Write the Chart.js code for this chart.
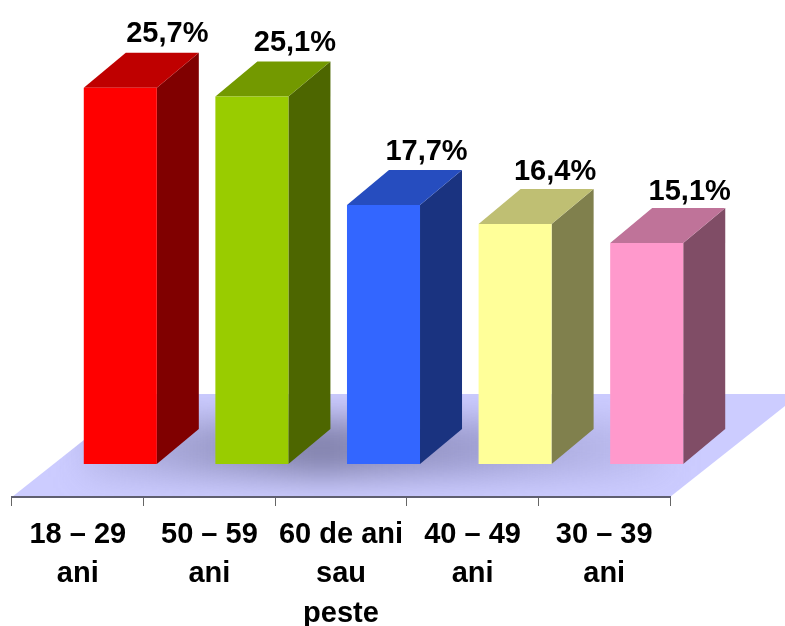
<!DOCTYPE html>
<html lang="ro">

<head>
    <meta charset="UTF-8">
    <title>Grupe de vârstă</title>
    <style>
        body { margin: 0; background: #fff; }
    </style>
</head>

<body>
    <canvas id="chart" width="785" height="626" style="display:block"></canvas>
</body>

<script src="https://cdn.jsdelivr.net/npm/chart.js@4/dist/chart.umd.min.js"></script>

<script>
    const labels = [['18 – 29', 'ani'], ['50 – 59', 'ani'], ['60 de ani', 'sau', 'peste'], ['40 – 49', 'ani'], ['30 – 39', 'ani']];
    const shares = [25.7, 25.1, 17.7, 16.4, 15.1];
    const frontColors = ['#ff0000', '#99cc00', '#3366ff', '#ffff99', '#ff99cc'];
    const topColors = ['#bf0000', '#739900', '#264dbf', '#bfbf73', '#bf7399'];
    const sideColors = ['#800000', '#4d6600', '#1a3380', '#80804d', '#804d66'];

    // the bars stand further back on the floor than the axis, so they slide right
    const barShift = 42.5;
    const depthX = 42;
    const depthY = 35;
    const labelFont = 'bold 29px "Liberation Sans", Arial, sans-serif';
    // hand placed in the original, so each label sits a little off centre
    const labelNudgeX = [5, 1, 1, -2, 1];
    const labelNudgeY = [-1, -1, 0, 1, 2];

    function face(ctx, color, pts) {
        ctx.fillStyle = color;
        ctx.beginPath();
        pts.forEach(function (p, i) {
            if (i === 0) ctx.moveTo(p[0], p[1]);
            else ctx.lineTo(p[0], p[1]);
        });
        ctx.closePath();
        ctx.fill();
    }

    const floorPlugin = {
        id: 'floor',
        beforeDraw: function (chart) {
            const ctx = chart.ctx;
            const area = chart.chartArea;
            const floorTop = area.bottom - 103;
            const floorSkew = 130;

            ctx.save();
            ctx.beginPath();
            ctx.moveTo(area.left, area.bottom);
            ctx.lineTo(area.left + floorSkew, floorTop);
            ctx.lineTo(chart.width, floorTop);
            ctx.lineTo(chart.width, floorTop + (area.right + floorSkew - chart.width) * 103 / floorSkew);
            ctx.lineTo(area.right, area.bottom);
            ctx.closePath();
            ctx.clip();
            ctx.fillStyle = '#ccccff';
            ctx.fillRect(0, floorTop, chart.width, 103);

            // soft shadow the bars throw on the floor
            const shade = ctx.createLinearGradient(area.left + 70, 0, area.right, 0);
            shade.addColorStop(0, 'rgba(125,125,175,0.2)');
            shade.addColorStop(0.4, 'rgba(115,115,155,0.85)');
            shade.addColorStop(0.65, 'rgba(125,125,175,0.6)');
            shade.addColorStop(1, 'rgba(125,125,175,0.1)');
            ctx.filter = 'blur(16px)';
            ctx.fillStyle = shade;
            ctx.fillRect(area.left + 70, area.bottom - 78, area.right - area.left - 70, 58);
            ctx.restore();
        }
    };

    const boxPlugin = {
        id: 'box',
        beforeDatasetDraw: function (chart, args) {
            const ctx = chart.ctx;
            ctx.save();
            ctx.translate(barShift, 0);
            args.meta.data.forEach(function (bar, i) {
                const left = bar.x - bar.width / 2;
                const right = bar.x + bar.width / 2;
                face(ctx, sideColors[i], [[right, bar.y], [right + depthX, bar.y - depthY], [right + depthX, bar.base - depthY], [right, bar.base]]);
                face(ctx, topColors[i], [[left, bar.y], [left + depthX, bar.y - depthY], [right + depthX, bar.y - depthY], [right, bar.y]]);
            });
        },
        afterDatasetDraw: function (chart, args) {
            const ctx = chart.ctx;
            ctx.fillStyle = '#000';
            ctx.font = labelFont;
            ctx.textAlign = 'center';
            ctx.textBaseline = 'alphabetic';
            args.meta.data.forEach(function (bar, i) {
                const text = shares[i].toFixed(1).replace('.', ',') + '%';
                ctx.fillText(text, bar.x + depthX + labelNudgeX[i], bar.y - depthY - 10 + labelNudgeY[i]);
            });
            ctx.restore();
        }
    };

    const data = {
        labels: labels,
        datasets: [{
            data: shares,
            backgroundColor: frontColors,
            borderWidth: 0,
            categoryPercentage: 1,
            barPercentage: 0.555,
            clip: false
        }]
    };

    const config = {
        type: 'bar',
        data: data,
        plugins: [floorPlugin, boxPlugin],
        options: {
            responsive: false,
            animation: false,
            layout: { padding: { left: 12, right: 115, top: 0, bottom: 0 } },
            plugins: {
                legend: { display: false },
                tooltip: { enabled: false }
            },
            scales: {
                x: {
                    afterFit: function (scale) { scale.height = 129; },
                    border: { color: '#5f5f70', width: 2 },
                    grid: { drawOnChartArea: false, drawTicks: true, tickLength: 9, color: '#666666' },
                    ticks: {
                        autoSkip: false,
                        maxRotation: 0,
                        color: '#000',
                        padding: 9,
                        font: { family: '"Liberation Sans", Arial, sans-serif', size: 29, weight: 'bold', lineHeight: 1.365 }
                    }
                },
                y: {
                    display: false,
                    min: -2.25,
                    max: 31.7,
                    grid: { display: false }
                }
            }
        }
    };

    new Chart(document.getElementById('chart'), config);
</script>

</html>
